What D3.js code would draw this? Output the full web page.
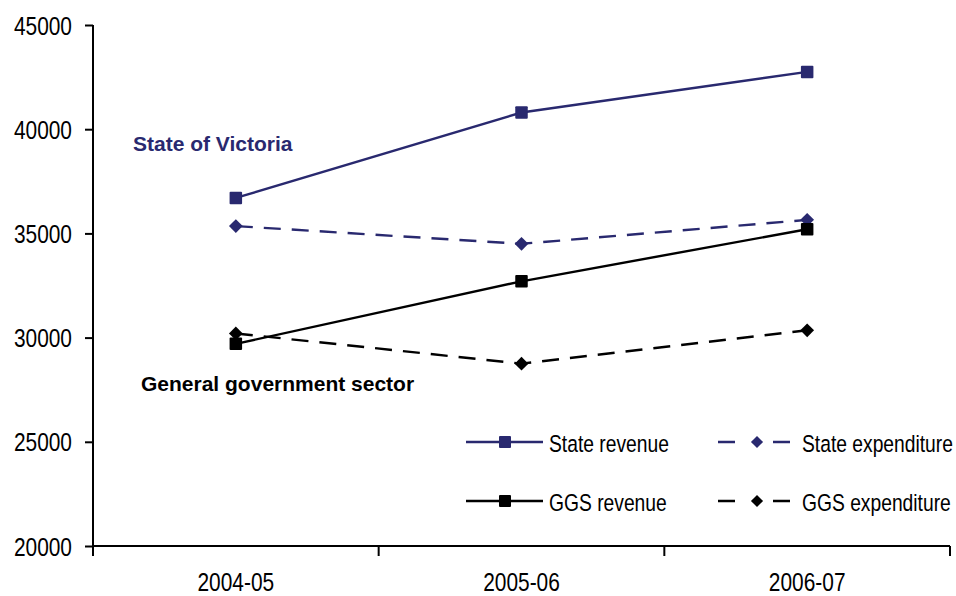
<!DOCTYPE html>
<html>
<head>
<meta charset="utf-8">
<script src="https://cdn.jsdelivr.net/npm/d3@7"></script>
<style>
  html, body { margin: 0; padding: 0; background: #fff; }
  svg { display: block; }
  .narrow { font-family: "Liberation Sans", Arial, sans-serif; }
  .bold { font-family: "Liberation Sans", Arial, sans-serif; font-weight: bold; }
</style>
</head>
<body>
<svg id="chart" width="956" height="596"></svg>
<script>
// Financial years on the category axis
const years = ["2004-05", "2005-06", "2006-07"];

// $ million, by year
const stateRevenue     = [36700, 40800, 42750];
const stateExpenditure = [35350, 34500, 35650];
const ggsRevenue       = [29700, 32700, 35200];
const ggsExpenditure   = [30200, 28750, 30350];

// Value axis ticks
const yTicks = [20000, 25000, 30000, 35000, 40000, 45000];

const navy = "#29296f";
const black = "#000";

const series = [
  { name: "State revenue",     values: stateRevenue,     color: navy,  dashed: false, marker: "square"  },
  { name: "State expenditure", values: stateExpenditure, color: navy,  dashed: true,  marker: "diamond" },
  { name: "GGS revenue",       values: ggsRevenue,       color: black, dashed: false, marker: "square"  },
  { name: "GGS expenditure",   values: ggsExpenditure,   color: black, dashed: true,  marker: "diamond" }
];

// Condensed face: regular sans squeezed horizontally
const squeeze = 0.82;

const svg = d3.select("#chart");
const plotLeft = 93, plotRight = 950, plotTop = 25, plotBottom = 546;

const x = d3.scaleBand().domain(years).range([plotLeft, plotRight]).padding(0);
const y = d3.scaleLinear().domain([20000, 45000]).range([plotBottom, plotTop]);

// Y axis
const yAxis = svg.append("g")
  .attr("transform", `translate(${plotLeft},0)`)
  .call(d3.axisLeft(y).tickValues(yTicks).tickFormat(d3.format("d")).tickSize(8).tickPadding(13));
yAxis.select(".domain").attr("stroke", "#000").attr("stroke-width", 2).attr("d", `M0,${plotTop}V${plotBottom + 10}`);
yAxis.selectAll(".tick line").attr("stroke", "#000").attr("stroke-width", 2);
yAxis.selectAll(".tick text")
  .attr("class", "narrow").attr("font-size", 25.5).attr("fill", "#000")
  .attr("x", 0).attr("dy", "0.36em")
  .attr("transform", `translate(-21,0) scale(${squeeze},1)`);
yAxis.attr("font-family", null).attr("font-size", null);

// X axis: labels centred in each band, ticks on band edges
const xAxis = svg.append("g")
  .attr("transform", `translate(0,${plotBottom})`)
  .call(d3.axisBottom(x).tickSize(0).tickPadding(27));
xAxis.select(".domain").attr("stroke", "#000").attr("stroke-width", 2).attr("d", `M${plotLeft},0H${plotRight}`);
xAxis.selectAll(".tick text")
  .attr("class", "narrow").attr("font-size", 25.5).attr("fill", "#000")
  .attr("transform", `scale(${squeeze},1)`);
xAxis.attr("font-family", null).attr("font-size", null);

const edges = years.map(d => x(d)).concat([x(years[years.length - 1]) + x.bandwidth()]);
svg.append("g").selectAll("line").data(edges).join("line")
  .attr("x1", d => d).attr("x2", d => d)
  .attr("y1", plotBottom).attr("y2", plotBottom + 10)
  .attr("stroke", "#000").attr("stroke-width", 2);

// Series lines and markers
const cx = d => x(d) + x.bandwidth() / 2;
const line = d3.line().x((v, i) => cx(years[i])).y(v => y(v));

function drawMarker(g, type, px, py, color, s) {
  if (type === "square") {
    g.append("rect").attr("x", px - s / 2).attr("y", py - s / 2)
      .attr("width", s).attr("height", s).attr("rx", 1).attr("fill", color);
  } else {
    const r = s * 0.55;
    g.append("path")
      .attr("d", `M${px},${py - r}L${px + r},${py}L${px},${py + r}L${px - r},${py}Z`)
      .attr("fill", color);
  }
}

const plot = svg.append("g");
series.forEach(s => {
  plot.append("path")
    .attr("d", line(s.values))
    .attr("fill", "none")
    .attr("stroke", s.color)
    .attr("stroke-width", 2.4)
    .attr("stroke-dasharray", s.dashed ? "17,11" : null);
});
series.forEach(s => {
  s.values.forEach((v, i) => drawMarker(plot, s.marker, cx(years[i]), y(v), s.color, 12.5));
});

// Group annotations
svg.append("text").attr("class", "bold").attr("x", 133).attr("y", 151)
  .attr("font-size", 21).attr("fill", navy).text("State of Victoria");
svg.append("text").attr("class", "bold").attr("x", 141).attr("y", 391)
  .attr("font-size", 21).attr("fill", black).text("General government sector");

// Legend, two columns by two rows
const legendPos = [
  { x: 466, y: 442 }, { x: 718, y: 442 },
  { x: 466, y: 501 }, { x: 718, y: 501 }
];
const legend = svg.append("g");
series.forEach((s, i) => {
  const p = legendPos[i];
  const g = legend.append("g");
  if (s.dashed) {
    g.append("line").attr("x1", p.x).attr("x2", p.x + 75).attr("y1", p.y).attr("y2", p.y)
      .attr("stroke", s.color).attr("stroke-width", 2.4).attr("stroke-dasharray", "17,38");
    drawMarker(g, s.marker, p.x + 39, p.y, s.color, 11);
  } else {
    g.append("line").attr("x1", p.x).attr("x2", p.x + 77).attr("y1", p.y).attr("y2", p.y)
      .attr("stroke", s.color).attr("stroke-width", 2.4);
    drawMarker(g, s.marker, p.x + 39, p.y, s.color, 12);
  }
  g.append("text").attr("class", "narrow")
    .attr("x", 0).attr("y", 0)
    .attr("transform", `translate(${p.x + (s.dashed ? 84 : 83)},${p.y + 9.5}) scale(${squeeze},1)`)
    .attr("font-size", 23.5).attr("fill", "#000").text(s.name);
});
</script>
</body>
</html>
